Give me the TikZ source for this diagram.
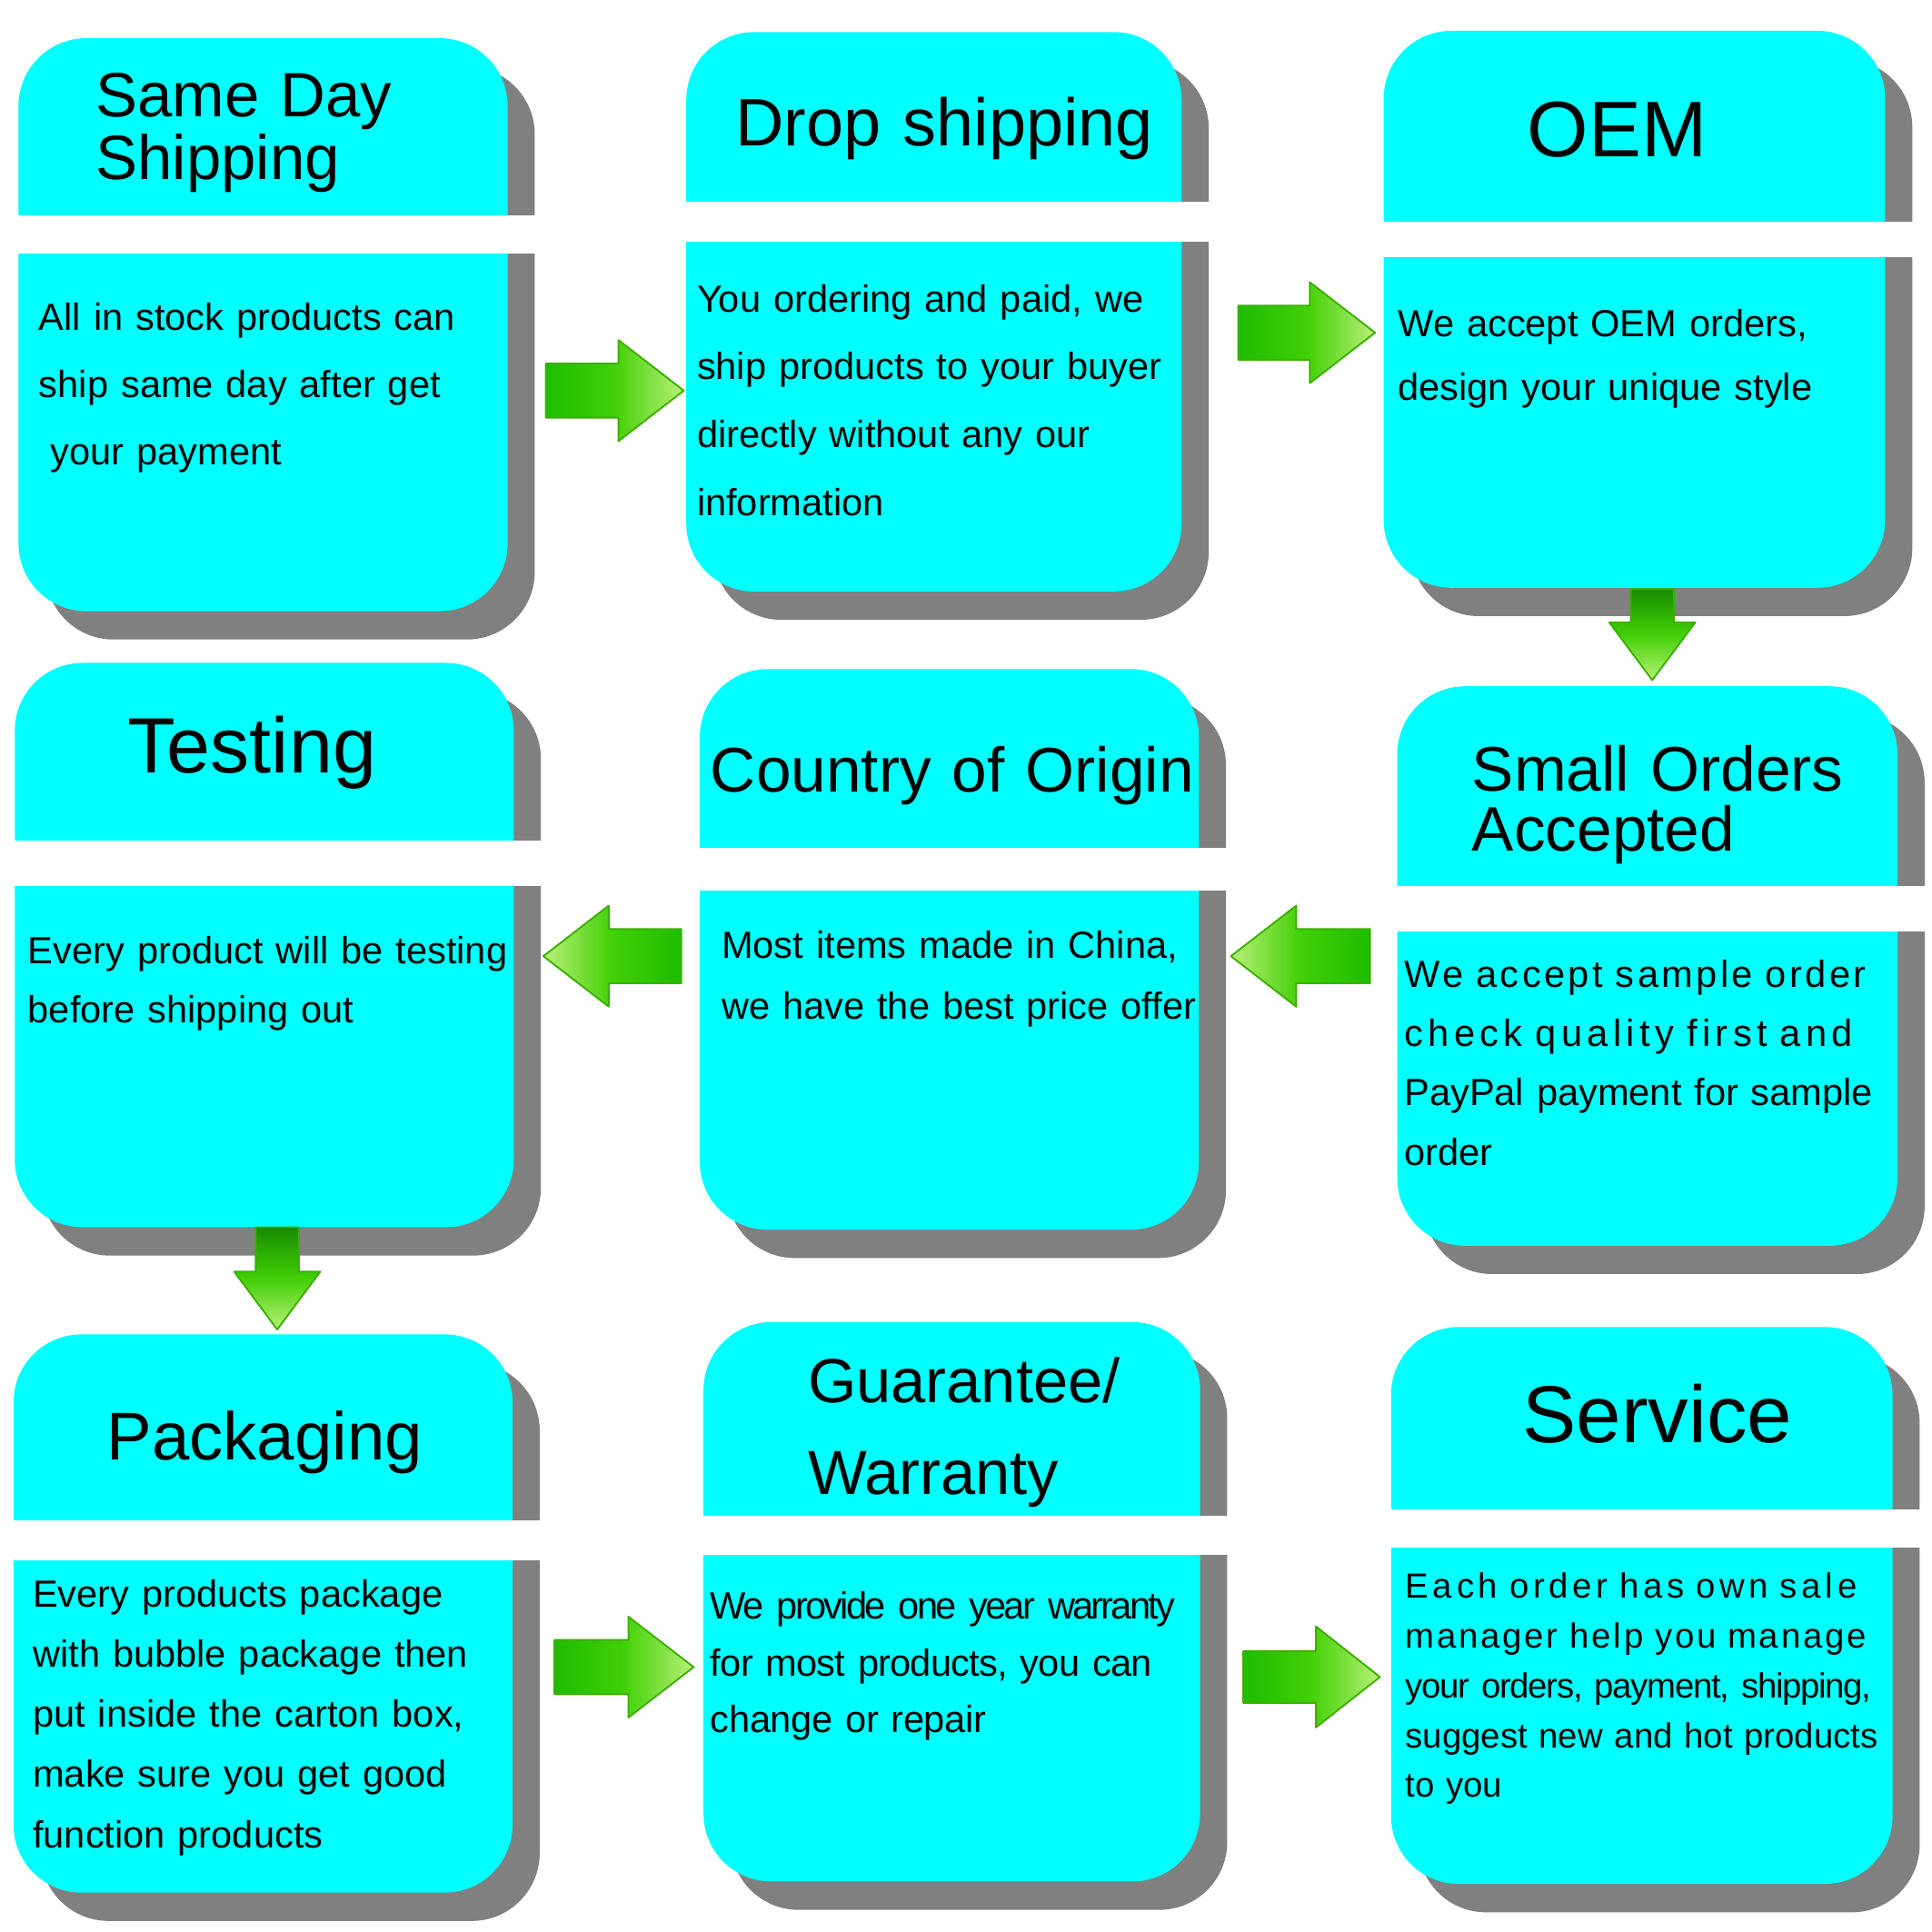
\documentclass[tikz,border=0pt]{standalone}
\usepackage{fontspec}
\setmainfont{Liberation Sans}
\definecolor{panelcyan}{RGB}{0,255,255}
\definecolor{panelgray}{RGB}{128,128,128}
\definecolor{arrowdark}{RGB}{30,188,0}
\definecolor{arrowshade}{RGB}{22,140,0}
\definecolor{arrowmid}{RGB}{66,208,6}
\definecolor{arrowlight}{RGB}{185,240,120}
\definecolor{arrowedge}{RGB}{60,175,0}

\begin{document}
\begin{tikzpicture}[x=0.01cm, y=-0.01cm,
  shadowbox/.style={fill=panelgray, rounded corners=0.55cm},
  cyanbox/.style={fill=panelcyan, rounded corners=0.55cm},
  whitegap/.style={fill=white},
  titletext/.style={anchor=base west, inner sep=0pt, text width=5cm, align=left},
  bodytext/.style={anchor=base west, inner sep=0pt, text width=5cm, align=left},
  arrowR/.style={left color=arrowdark, right color=arrowlight, middle color=arrowmid, draw=arrowedge, line width=0.4pt, line join=round},
  arrowL/.style={left color=arrowlight, right color=arrowdark, middle color=arrowmid, draw=arrowedge, line width=0.4pt, line join=round},
  arrowD/.style={top color=arrowshade, bottom color=arrowlight, middle color=arrowmid, draw=arrowedge, line width=0.4pt, line join=round}]

\useasboundingbox (0,0) rectangle (1568,1568);

\fill[shadowbox] (37,54) rectangle (434,519);
\fill[shadowbox] (579,49) rectangle (981,503);
\fill[shadowbox] (1145,48) rectangle (1552,500);
\fill[shadowbox] (34,561) rectangle (439,1019);
\fill[shadowbox] (590,566) rectangle (995,1021);
\fill[shadowbox] (1156,580) rectangle (1562,1034);
\fill[shadowbox] (33,1106) rectangle (438,1559);
\fill[shadowbox] (593,1096) rectangle (996,1550);
\fill[shadowbox] (1151,1100) rectangle (1558,1552);

\fill[cyanbox] (15,31) rectangle (412,496);
\fill[cyanbox] (557,26) rectangle (959,480);
\fill[cyanbox] (1123,25) rectangle (1530,477);
\fill[cyanbox] (12,538) rectangle (417,996);
\fill[cyanbox] (568,543) rectangle (973,998);
\fill[cyanbox] (1134,557) rectangle (1540,1011);
\fill[cyanbox] (11,1083) rectangle (416,1536);
\fill[cyanbox] (571,1073) rectangle (974,1527);
\fill[cyanbox] (1129,1077) rectangle (1536,1529);

\fill[whitegap] (12,175) rectangle (438,206);
\fill[whitegap] (554,164) rectangle (985,196);
\fill[whitegap] (1120,180) rectangle (1556,209);
\fill[whitegap] (9,682) rectangle (443,719);
\fill[whitegap] (565,688) rectangle (999,723);
\fill[whitegap] (1131,719) rectangle (1566,756);
\fill[whitegap] (8,1234) rectangle (442,1266);
\fill[whitegap] (568,1230) rectangle (1000,1262);
\fill[whitegap] (1126,1225) rectangle (1562,1256);

\node[titletext, font=\fontsize{14.47}{14.5}\selectfont] (t1) at (77,95) {Same Day\\Shipping};
\node[titletext, font=\fontsize{15.5}{16}\selectfont] (t2) at (596,118) {Drop shipping};
\node[titletext, font=\fontsize{18.2}{19}\selectfont] (t3) at (1239,127) {OEM};
\node[titletext, font=\fontsize{18.1}{19}\selectfont] (t4) at (103,627) {Testing};
\node[titletext, font=\fontsize{14.55}{15}\selectfont] (t5) at (576,643) {Country of Origin};
\node[titletext, font=\fontsize{14.55}{13.9}\selectfont] (t6) at (1194,642) {Small Orders\\Accepted};
\node[titletext, font=\fontsize{15.6}{16}\selectfont] (t7) at (86,1185) {Packaging};
\node[titletext, font=\fontsize{14.4}{21.3}\selectfont] (t8) at (655,1138) {Guarantee/\\Warranty};
\node[titletext, font=\fontsize{18.65}{19}\selectfont] (t9) at (1235,1171) {Service};

\node[bodytext, font=\fontsize{8.73}{15.5}\selectfont] (b1) at (31,268) {All in stock products can\\ship same day after get\\\hspace*{2.7pt}your payment};
\node[bodytext, font=\fontsize{8.73}{15.7}\selectfont] (b2) at (565,253) {You ordering and paid, we\\ship products to your buyer\\directly without any our\\information};
\node[bodytext, font=\fontsize{8.73}{14.65}\selectfont] (b3) at (1134,273) {We accept OEM orders,\\design your unique style};
\node[bodytext, font=\fontsize{8.73}{13.7}\selectfont] (b4) at (22,782) {Every product will be testing\\before shipping out};
\node[bodytext, font=\fontsize{8.73}{13.9}\selectfont] (b5) at (585,778) {Most items made in China,\\we have the best price offer};
\node[bodytext, font=\fontsize{8.73}{13.7}\selectfont] (b6) at (1139,801) {{\addfontfeatures{LetterSpace=8.2}We accept sample order}\\{\addfontfeatures{LetterSpace=13}check quality first and}\\PayPal payment for sample\\order};
\node[bodytext, font=\fontsize{8.73}{13.9}\selectfont] (b7) at (26,1304) {Every products package\\with bubble package then\\put inside the carton box,\\make sure you get good\\function products};
\node[bodytext, font=\fontsize{8.73}{13.1}\selectfont] (b8) at (576,1314) {{\addfontfeatures{LetterSpace=-6.6}We provide one year warranty}\\{\addfontfeatures{LetterSpace=-2}for most products, you can}\\{\addfontfeatures{LetterSpace=-1}change or repair}};
\node[bodytext, font=\fontsize{8.04}{11.5}\selectfont] (b9) at (1140,1297) {{\addfontfeatures{LetterSpace=12.4}Each order has own sale}\\{\addfontfeatures{LetterSpace=7.3}manager help you manage}\\{\addfontfeatures{LetterSpace=-3.3}your orders, payment, shipping,}\\suggest new and hot products\\to you};

\coordinate (r12) at (555,317);
\coordinate (r23) at (1116,270);
\coordinate (d36) at (1341,552);
\coordinate (l65) at (999,776);
\coordinate (l54) at (441,776);
\coordinate (d47) at (225,1079);
\coordinate (r78) at (563,1353);
\coordinate (r89) at (1120,1361);

\draw[arrowR] (r12) -- ++(-53,-41) -- ++(0,19) -- ++(-59,0) -- ++(0,44) -- ++(59,0) -- ++(0,19) -- cycle;
\draw[arrowR] (r23) -- ++(-53,-41) -- ++(0,19) -- ++(-58,0) -- ++(0,44) -- ++(58,0) -- ++(0,19) -- cycle;
\draw[arrowD] (d36) -- ++(-35,-47) -- ++(17.5,0) -- ++(0,-27) -- ++(35,0) -- ++(0,27) -- ++(17.5,0) -- cycle;
\draw[arrowL] (l65) -- ++(53,-41) -- ++(0,19) -- ++(60,0) -- ++(0,44) -- ++(-60,0) -- ++(0,19) -- cycle;
\draw[arrowL] (l54) -- ++(53,-41) -- ++(0,19) -- ++(59,0) -- ++(0,44) -- ++(-59,0) -- ++(0,19) -- cycle;
\draw[arrowD] (d47) -- ++(-35,-47) -- ++(17.5,0) -- ++(0,-36) -- ++(35,0) -- ++(0,36) -- ++(17.5,0) -- cycle;
\draw[arrowR] (r78) -- ++(-53,-41) -- ++(0,19) -- ++(-60,0) -- ++(0,44) -- ++(60,0) -- ++(0,19) -- cycle;
\draw[arrowR] (r89) -- ++(-52,-41) -- ++(0,20) -- ++(-59,0) -- ++(0,42) -- ++(59,0) -- ++(0,20) -- cycle;
\end{tikzpicture}
\end{document}
